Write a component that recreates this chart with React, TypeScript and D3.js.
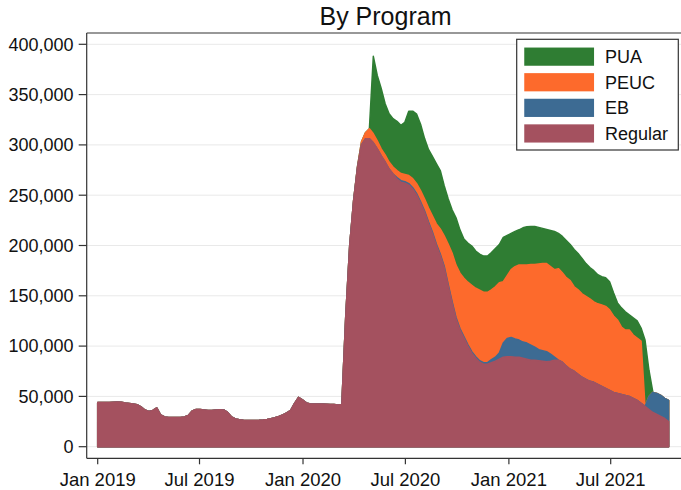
import React from "react";
import * as d3 from "d3";

// weekly continuing claims, thousands, Jan 2019 - Oct 2021
const start = new Date(Date.UTC(2019, 0, 1));
const weeks = d3.range(146).map((i) => d3.utcDay.offset(start, 7 * i));

const regular = [
  44, 44, 44, 44, 44.3, 44.5, 44.2, 43.5, 43, 42.5,
  41.8, 39.5, 36.5, 35, 36, 38.5, 31.5, 29.5, 29, 29,
  29, 29, 29.5, 31, 35.5, 37, 37, 36.5, 36, 36,
  36.5, 36.8, 36.5, 34, 29.5, 27.5, 26.8, 26.3, 26, 26,
  26, 26.2, 26.5, 27, 27.8, 28.8, 30, 31.5, 33.5, 36,
  43, 49, 46.5, 43.5, 42.5, 42.5, 42.5, 42.5, 42.3, 42,
  42, 41.5, 42, 130, 200, 245, 278, 300, 306, 306,
  302, 296, 289, 283, 276, 271, 266, 263, 262, 260,
  256, 250, 242, 233, 222, 212, 200, 190, 178, 160,
  143, 127, 116, 108, 100, 93, 88, 84, 82, 82,
  83.5, 85, 87, 89, 89.5, 89.5, 89, 89, 88, 87,
  86, 86, 85.5, 85, 84.5, 85, 86, 86, 84, 80,
  77, 75, 72, 69, 67, 65, 64, 62, 60, 58,
  56, 54, 53, 52, 51, 50, 48, 46, 43, 40,
  37, 34, 32, 30, 28, 25,
];

// federal programs, from week 62 (Mar 2020) on
const fedStart = 62;
const eb = [
  0, 0, 0, 0, 0, 0, 0, 0, 0, 0, 0, 0, 0, 0,
  1.5, 1.5, 1.5, 1.5, 1.5, 1.5, 1.5, 1.5, 1.5, 1.5, 1.5, 1.5,
  1.5, 1.5, 1.5, 1.5, 1.5, 1.5, 1.5, 1.5, 1.5, 1.5, 1.5, 1.5,
  3, 4, 6, 14, 18, 19, 18, 17, 16, 16,
  15, 13, 11, 10.5, 10, 7, 3, 0, 0, 0,
  0, 0, 0, 0, 0, 0, 0, 0, 0, 0,
  0, 0, 0, 0, 0, 0, 0, 0, 0, 0,
  13, 20, 21, 21, 20, 21,
];
const peuc = [
  0, 0, 0, 0, 1, 3, 6, 10,
  9, 8, 7, 7, 7, 7, 7, 7, 7, 8,
  9, 10, 11, 12, 14, 16, 20, 25, 30, 40,
  48, 52, 55, 58, 62, 66, 68, 70, 70, 70,
  69.5, 70, 70, 61, 62.5, 67.5, 72, 74.6, 76.6, 77.6,
  80, 82, 85, 86.5, 87.5, 87, 87, 91, 89, 88,
  88, 84, 84, 83, 82.5, 82, 80, 80, 81, 81.5,
  80, 76, 73, 67, 65, 66, 63, 62, 62, 0,
  0, 0, 0, 0, 0, 0,
];
const pua = [
  0, 0, 0, 0, 0, 0, 0, 0,
  77, 65, 60, 51, 48, 48, 49, 48, 52, 64,
  67, 69, 66, 60, 58, 59, 60, 58, 50, 45,
  43, 47, 43, 39, 39, 39, 37, 36, 36, 36,
  37, 38, 38, 44, 40, 36, 35, 35, 37, 38,
  38, 38, 36.5, 35, 34, 36, 38, 35, 36, 37,
  36, 37, 36, 35, 32.5, 31, 31, 29, 28, 28.5,
  28, 23, 17, 19, 18, 15, 17, 17, 13, 66,
  26, 0, 0, 0, 0, 0,
];

const keys = ["regular", "eb", "peuc", "pua"];
const labels: Record<string, string> = { regular: "Regular", eb: "EB", peuc: "PEUC", pua: "PUA" };
const colors: Record<string, string> = {
  regular: "#a4515f",
  eb: "#3d6b93",
  peuc: "#fd6a2c",
  pua: "#2f7d33",
};

const yTicks = [0, 50000, 100000, 150000, 200000, 250000, 300000, 350000, 400000];
const xTicks = ["2019-01-01", "2019-07-01", "2020-01-01", "2020-07-01", "2021-01-01", "2021-07-01"];

const W = 681;
const H = 490;
const left = 86.7;
const top = 33;
const bottom = 458.3;
const font = "'Liberation Sans', Arial, sans-serif";

const fed = (a: number[]) => weeks.map((_, i) => (i < fedStart ? 0 : a[i - fedStart] ?? 0));

export default function App() {
  const ebAll = fed(eb);
  const peucAll = fed(peuc);
  const puaAll = fed(pua);
  const rows = weeks.map((date, i) => ({
    date,
    regular: regular[i] * 1000,
    eb: ebAll[i] * 1000,
    peuc: peucAll[i] * 1000,
    pua: puaAll[i] * 1000,
  }));

  const x = d3
    .scaleUtc()
    .domain([new Date(Date.UTC(2019, 0, 1)), new Date(Date.UTC(2021, 6, 1))])
    .range([97.7, 610.7]);
  const y = d3.scaleLinear().domain([0, 400000]).range([446.7, 44.3]);

  const stack = d3.stack<any>().keys(keys)(rows as any);
  // cumulative areas drawn from the baseline, largest first
  const area = d3
    .area<any>()
    .x((d) => x(d.data.date))
    .y0(y(0))
    .y1((d) => y(d[1]));

  const fmtY = d3.format(",");
  const fmtX = d3.utcFormat("%b %Y");

  return (
    <svg width={W} height={H} style={{ position: "absolute", left: 0, top: 0, background: "#fff" }}>
      <rect width={W} height={H} fill="#fff" />
      <text x={385.5} y={25} textAnchor="middle" fontFamily={font} fontSize={25} fill="#111">
        By Program
      </text>

      {yTicks.map((t) => (
        <line key={"g" + t} x1={left} x2={W} y1={y(t)} y2={y(t)} stroke="#e9e9e9" strokeWidth={1} />
      ))}

      {[...stack].reverse().map((s) => (
        <path
          key={s.key}
          d={area(s) || ""}
          fill={colors[s.key]}
          stroke={colors[s.key]}
          strokeWidth={1.5}
          strokeLinejoin="round"
        />
      ))}

      <line x1={left} x2={W} y1={top} y2={top} stroke="#333" strokeWidth={1.2} />
      <line x1={left} x2={left} y1={top} y2={bottom} stroke="#333" strokeWidth={1.2} />
      <line x1={left} x2={W} y1={bottom} y2={bottom} stroke="#333" strokeWidth={1.2} />

      {yTicks.map((t) => (
        <g key={"y" + t}>
          <line x1={left - 8} x2={left} y1={y(t)} y2={y(t)} stroke="#333" strokeWidth={1.2} />
          <text
            x={73.5}
            y={y(t)}
            dy="0.35em"
            textAnchor="end"
            fontFamily={font}
            fontSize={18}
            fill="#111"
          >
            {fmtY(t)}
          </text>
        </g>
      ))}

      {xTicks.map((s) => {
        const d = new Date(s + "T00:00:00Z");
        return (
          <g key={s}>
            <line x1={x(d)} x2={x(d)} y1={bottom} y2={bottom + 6} stroke="#333" strokeWidth={1.2} />
            <text x={x(d)} y={486} textAnchor="middle" fontFamily={font} fontSize={18.5} fill="#111">
              {fmtX(d)}
            </text>
          </g>
        );
      })}

      <rect x={516.7} y={39.3} width={161.6} height={110.7} fill="#fff" stroke="#333" strokeWidth={1.2} />
      {[...keys].reverse().map((k, i) => (
        <g key={"l" + k} transform={`translate(525,${48.3 + i * 25.6})`}>
          <rect width={68.3} height={16.7} fill={colors[k]} stroke={colors[k]} strokeWidth={1.5} />
          <text x={80} y={8.35} dy="0.35em" fontFamily={font} fontSize={18} fill="#111">
            {labels[k]}
          </text>
        </g>
      ))}
    </svg>
  );
}
